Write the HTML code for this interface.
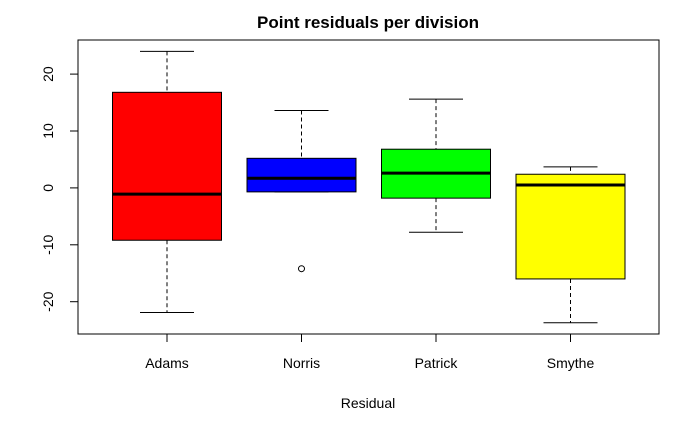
<!DOCTYPE html>
<html><head><meta charset="utf-8"><style>body{margin:0;background:#fff}svg{display:block}text{font-family:"Liberation Sans",Arial,sans-serif}</style></head>
<body>
<svg id="chart" width="700" height="432" viewBox="0 0 700 432" xmlns="http://www.w3.org/2000/svg">
<text x="368" y="28" text-anchor="middle" font-size="17" font-weight="bold">Point residuals per division</text>
<text x="368" y="408" text-anchor="middle" font-size="14">Residual</text>
<rect x="78" y="40" width="581" height="294" fill="none" stroke="#000" stroke-width="1"/>
<g id="marks"></g>
</svg>
<script>
const categories=["Adams","Norris","Patrick","Smythe"];
const colors=["#ff0000","#0000ff","#00ff00","#ffff00"];
const whiskerLow=[-21.9,-0.7,-7.8,-23.7];
const q1=[-9.2,-0.7,-1.8,-16.0];
const medians=[-1.1,1.7,2.6,0.5];
const q3=[16.8,5.2,6.8,2.4];
const whiskerHigh=[24.0,13.6,15.6,3.7];
const outliers=[[],[-14.2],[],[]];
const yTicks=[-20,-10,0,10,20];
const ns="http://www.w3.org/2000/svg";
const g=document.getElementById('marks');
const y=v=>187.9-v*5.69;
const x=i=>167+i*134.5;
const bw=109;
function mk(t,a){const e=document.createElementNS(ns,t);for(const k in a)e.setAttribute(k,a[k]);g.appendChild(e);return e;}
yTicks.forEach(t=>{
 const l=mk('line',{x1:70,x2:78,y1:y(t),y2:y(t),stroke:'#000'});
 
 
 const tx=mk('text',{x:53,y:y(t),'text-anchor':'middle','font-size':14,transform:`rotate(-90 53 ${y(t)})`});
 tx.textContent=t;
 
 
});
categories.forEach((c,i)=>{
 const cx=x(i);
 const tk=mk('line',{x1:cx,x2:cx,y1:334,y2:342,stroke:'#000'});
 
 
 const lb=mk('text',{x:cx,y:368,'text-anchor':'middle','font-size':14});
 lb.textContent=c;
 
 
 const w1=mk('line',{x1:cx,x2:cx,y1:y(whiskerHigh[i]),y2:y(q3[i]),stroke:'#000','stroke-dasharray':'4,3'});
 
 
 const w2=mk('line',{x1:cx,x2:cx,y1:y(q1[i]),y2:y(whiskerLow[i]),stroke:'#000','stroke-dasharray':'4,3'});
 
 
 [whiskerHigh[i],whiskerLow[i]].forEach(v=>{
  const s=mk('line',{x1:cx-27,x2:cx+27,y1:y(v),y2:y(v),stroke:'#000'});
  
  
 });
 const b=mk('rect',{x:cx-bw/2,y:y(q3[i]),width:bw,height:y(q1[i])-y(q3[i]),fill:colors[i],stroke:'#000'});
 
 
 const m=mk('line',{x1:cx-bw/2,x2:cx+bw/2,y1:y(medians[i]),y2:y(medians[i]),stroke:'#000','stroke-width':3});
 
 
 outliers[i].forEach(v=>{
  const o=mk('circle',{cx:cx,cy:y(v),r:3,fill:'none',stroke:'#000'});
  
  
 });
});
</script>
</body></html>
